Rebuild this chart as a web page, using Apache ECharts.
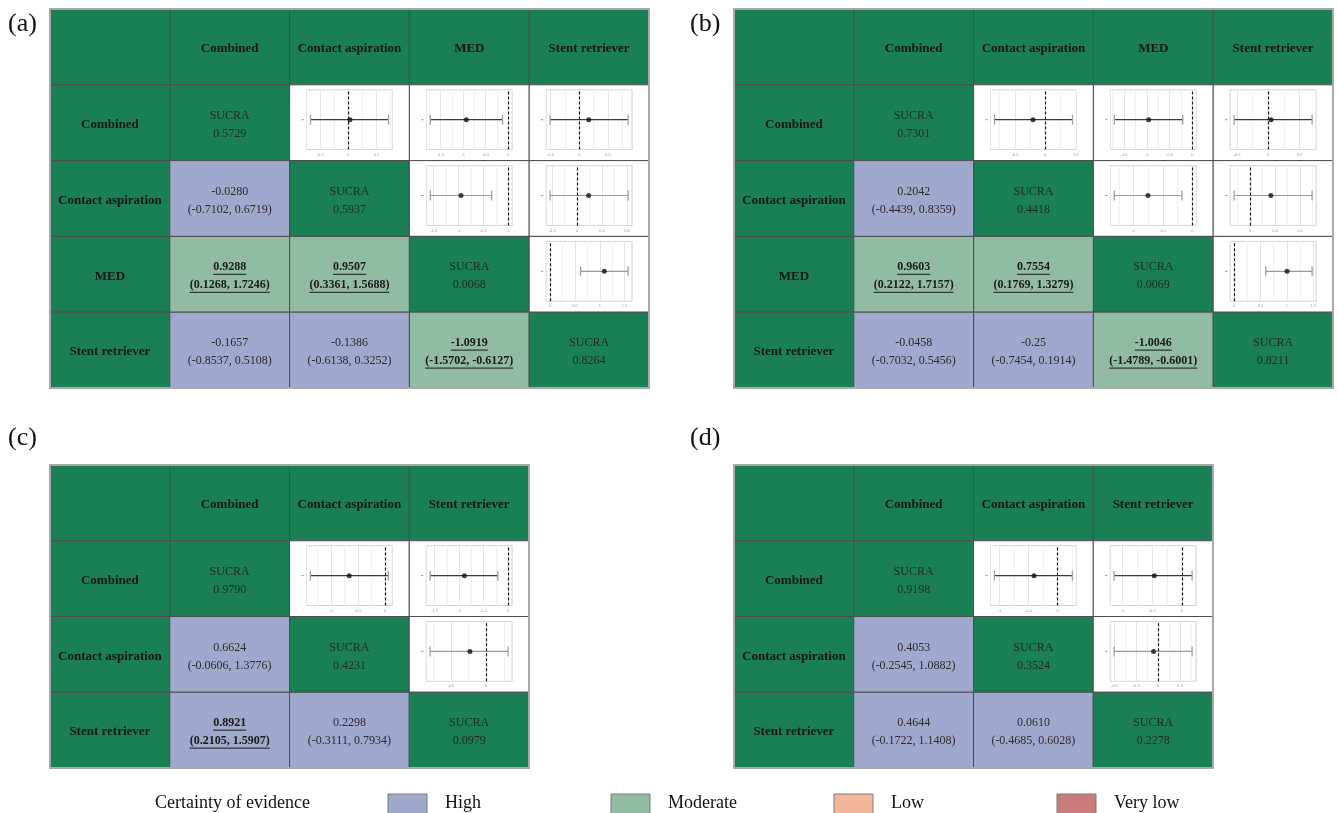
<!DOCTYPE html>
<html>
<head>
<meta charset="utf-8">
<title>League tables with SUCRA and forest plots</title>
<script src="https://cdn.jsdelivr.net/npm/echarts@6/dist/echarts.min.js"></script>
<style>
  html, body { margin: 0; padding: 0; background: #ffffff; }
  #chart { width: 1338px; height: 813px; }
</style>
</head>
<body>
<div id="chart"></div>
<script>
// ---------- data ----------
const panelLabels = ['(a)', '(b)', '(c)', '(d)'];
const treatments4 = ['Combined', 'Contact aspiration', 'MED', 'Stent retriever'];
const treatments3 = ['Combined', 'Contact aspiration', 'Stent retriever'];

// SUCRA per treatment (diagonal)
const sucraA = ['0.5729', '0.5937', '0.0068', '0.8264'];
const sucraB = ['0.7301', '0.4418', '0.0069', '0.8211'];
const sucraC = ['0.9790', '0.4231', '0.0979'];
const sucraD = ['0.9198', '0.3524', '0.2278'];

// Lower-triangle comparisons: [row, col, estimate, lower, upper, certainty]
const effectsA = [
  [1, 0, '-0.0280', '-0.7102', '0.6719', 'High'],
  [2, 0, '0.9288', '0.1268', '1.7246', 'Moderate'],
  [2, 1, '0.9507', '0.3361', '1.5688', 'Moderate'],
  [3, 0, '-0.1657', '-0.8537', '0.5108', 'High'],
  [3, 1, '-0.1386', '-0.6138', '0.3252', 'High'],
  [3, 2, '-1.0919', '-1.5702', '-0.6127', 'Moderate']
];
const effectsB = [
  [1, 0, '0.2042', '-0.4439', '0.8359', 'High'],
  [2, 0, '0.9603', '0.2122', '1.7157', 'Moderate'],
  [2, 1, '0.7554', '0.1769', '1.3279', 'Moderate'],
  [3, 0, '-0.0458', '-0.7032', '0.5456', 'High'],
  [3, 1, '-0.25', '-0.7454', '0.1914', 'High'],
  [3, 2, '-1.0046', '-1.4789', '-0.6001', 'Moderate']
];
const effectsC = [
  [1, 0, '0.6624', '-0.0606', '1.3776', 'High'],
  [2, 0, '0.8921', '0.2105', '1.5907', 'High'],
  [2, 1, '0.2298', '-0.3111', '0.7934', 'High']
];
const effectsD = [
  [1, 0, '0.4053', '-0.2545', '1.0882', 'High'],
  [2, 0, '0.4644', '-0.1722', '1.1408', 'High'],
  [2, 1, '0.0610', '-0.4685', '0.6028', 'High']
];

const certaintyLevels = ['High', 'Moderate', 'Low', 'Very low'];
const certaintyColors = ['#9fa8cd', '#91bba3', '#f2b79b', '#c97c7a'];

// ---------- styling / layout ----------
const FONT = '"Liberation Serif", "Times New Roman", serif';
const GREEN = '#1b7f56';
const panelBoxes = [
  { left: 50, top: 9, width: 599, height: 379 },
  { left: 734, top: 9, width: 599, height: 379 },
  { left: 50, top: 465, width: 479, height: 303 },
  { left: 734, top: 465, width: 479, height: 303 }
];
const labelPos = [[8, 24], [690, 24], [8, 438], [690, 438]];

const panels = [
  { treatments: treatments4, sucra: sucraA, effects: effectsA },
  { treatments: treatments4, sucra: sucraB, effects: effectsB },
  { treatments: treatments3, sucra: sucraC, effects: effectsC },
  { treatments: treatments3, sucra: sucraD, effects: effectsD }
];

const measureCtx = document.createElement('canvas').getContext('2d');
function textWidth(str, font) {
  measureCtx.font = font;
  return measureCtx.measureText(str).width;
}

function certaintyColor(level) {
  return certaintyColors[certaintyLevels.indexOf(level)];
}

const grids = [], xAxes = [], yAxes = [], series = [], graphics = [];

panels.forEach((p, pi) => {
  const n = p.treatments.length;
  const box = panelBoxes[pi];
  const cats = [''].concat(p.treatments);
  const gi = grids.length;
  grids.push({ left: box.left, top: box.top, width: box.width, height: box.height, show: false });
  xAxes.push({ type: 'category', gridIndex: gi, data: cats, show: false });
  yAxes.push({ type: 'category', gridIndex: gi, data: cats, inverse: true, show: false });

  // table cells
  const cells = [];
  for (let r = 0; r <= n; r++) {
    for (let c = 0; c <= n; c++) {
      const cell = { col: c, row: r, fill: GREEN, lines: [], font: '12px ' + FONT, color: '#222', underline: false };
      if (r === 0 && c > 0) {
        cell.lines = [p.treatments[c - 1]];
        cell.font = 'bold 13px ' + FONT;
        cell.color = '#161616';
      } else if (c === 0 && r > 0) {
        cell.lines = [p.treatments[r - 1]];
        cell.font = 'bold 13px ' + FONT;
        cell.color = '#161616';
      } else if (r > 0 && r === c) {
        cell.lines = ['SUCRA', p.sucra[r - 1]];
        cell.color = '#1f2a24';
      } else if (r > c && c > 0) {
        const e = p.effects.find(d => d[0] === r - 1 && d[1] === c - 1);
        const lo = Number(e[3]), hi = Number(e[4]);
        const sig = lo > 0 || hi < 0;
        cell.fill = certaintyColor(e[5]);
        cell.lines = [e[2], '(' + e[3] + ', ' + e[4] + ')'];
        cell.color = '#2b2b2b';
        if (sig) { cell.font = 'bold 12px ' + FONT; cell.underline = true; cell.color = '#1a1a1a'; }
      } else if (r > 0 && r < c) {
        cell.fill = '#ffffff';
      }
      cells.push(cell);
    }
  }

  series.push({
    type: 'custom',
    xAxisIndex: gi,
    yAxisIndex: gi,
    z: 1,
    silent: true,
    data: cells.map(cl => [cl.col, cl.row]),
    renderItem: (params, api) => {
      const cell = cells[params.dataIndex];
      const ctr = api.coord([api.value(0), api.value(1)]);
      const sz = api.size([1, 1]);
      const children = [{
        type: 'rect',
        shape: { x: ctr[0] - sz[0] / 2, y: ctr[1] - sz[1] / 2, width: sz[0], height: sz[1] },
        style: { fill: cell.fill, stroke: '#4d4d4d', lineWidth: 1 }
      }];
      const lh = 18;
      cell.lines.forEach((t, k) => {
        const ty = ctr[1] + 2 + (k - (cell.lines.length - 1) / 2) * lh;
        children.push({
          type: 'text',
          style: { text: t, x: ctr[0], y: ty, align: 'center', verticalAlign: 'middle', font: cell.font, fill: cell.color }
        });
        if (cell.underline) {
          const w = textWidth(t, cell.font);
          children.push({
            type: 'line',
            shape: { x1: ctr[0] - w / 2, y1: ty + 7, x2: ctr[0] + w / 2, y2: ty + 7 },
            style: { stroke: cell.color, lineWidth: 1 }
          });
        }
      });
      return { type: 'group', children };
    }
  });

  // light outer frame of the table
  series.push({
    type: 'custom',
    xAxisIndex: gi,
    yAxisIndex: gi,
    z: 6,
    silent: true,
    data: [[0, 0]],
    renderItem: (params) => {
      const cs = params.coordSys;
      return {
        type: 'rect',
        shape: { x: cs.x, y: cs.y, width: cs.width, height: cs.height },
        style: { fill: 'none', stroke: '#a9a9a9', lineWidth: 2 }
      };
    }
  });

  // forest plots in the upper triangle: comparison of row vs column (sign reversed)
  const cw = box.width / (n + 1), ch = box.height / (n + 1);
  for (let i = 0; i < n; i++) {
    for (let j = i + 1; j < n; j++) {
      const e = p.effects.find(d => d[0] === j && d[1] === i);
      const est = -Number(e[2]), lo = -Number(e[4]), hi = -Number(e[3]);
      const mn = Math.min(lo, 0), mx = Math.max(hi, 0);
      const pad = (mx - mn) * 0.05;
      const fg = grids.length;
      const cellX = box.left + (j + 1) * cw, cellY = box.top + (i + 1) * ch;
      const barColor = i === 0 ? '#3a3a3a' : '#9a9a9a';
      grids.push({
        left: cellX + 17, top: cellY + 5, width: cw - 34, height: ch - 16,
        show: true, backgroundColor: '#ffffff', borderColor: '#d4d4d4', borderWidth: 1, z: 2
      });
      xAxes.push({
        type: 'value', gridIndex: fg, min: mn - pad, max: mx + pad, splitNumber: 3, z: 3,
        axisLine: { show: false }, axisTick: { show: false },
        axisLabel: { fontSize: 4, color: '#9a9a9a', margin: 3, showMinLabel: false, showMaxLabel: false, fontFamily: 'Liberation Sans' },
        splitLine: { show: true, lineStyle: { color: '#e4e4e4', width: 1 } },
        minorTick: { show: true, splitNumber: 2, length: 0, lineStyle: { color: 'rgba(0,0,0,0)' } },
        minorSplitLine: { show: true, lineStyle: { color: '#f0f0f0', width: 1 } }
      });
      yAxes.push({ type: 'value', gridIndex: fg, min: -1, max: 1, show: false });
      series.push({
        type: 'custom',
        xAxisIndex: fg,
        yAxisIndex: fg,
        z: 4,
        silent: true,
        data: [[lo, hi, est]],
        renderItem: (params, api) => {
          const a = api.coord([api.value(0), 0]);
          const b = api.coord([api.value(1), 0]);
          const cs = params.coordSys;
          const capH = 5;
          return {
            type: 'group',
            children: [
              { type: 'line', shape: { x1: cs.x - 5, y1: a[1], x2: cs.x - 3, y2: a[1] }, style: { stroke: '#8a8a8a', lineWidth: 1 } },
              { type: 'line', shape: { x1: a[0], y1: a[1], x2: b[0], y2: b[1] }, style: { stroke: barColor, lineWidth: 1.2 } },
              { type: 'line', shape: { x1: a[0], y1: a[1] - capH, x2: a[0], y2: a[1] + capH }, style: { stroke: '#a0a0a0', lineWidth: 1.3 } },
              { type: 'line', shape: { x1: b[0], y1: b[1] - capH, x2: b[0], y2: b[1] + capH }, style: { stroke: '#a0a0a0', lineWidth: 1.3 } }
            ]
          };
        }
      });
      series.push({
        type: 'scatter',
        xAxisIndex: fg,
        yAxisIndex: fg,
        z: 5,
        silent: true,
        symbol: 'circle',
        symbolSize: 5,
        itemStyle: { color: '#111111' },
        data: [[est, 0]],
        markLine: {
          silent: true,
          symbol: ['none', 'none'],
          label: { show: false },
          lineStyle: { type: [3, 2], color: '#1a1a1a', width: 1.2 },
          data: [{ xAxis: 0 }]
        }
      });
    }
  }

  graphics.push({
    type: 'text', x: labelPos[pi][0], y: labelPos[pi][1],
    style: { text: panelLabels[pi], font: '26px ' + FONT, fill: '#111', verticalAlign: 'middle' }
  });
});

// legend: certainty of evidence
graphics.push({
  type: 'text', x: 155, y: 803,
  style: { text: 'Certainty of evidence', font: '18px ' + FONT, fill: '#111', verticalAlign: 'middle' }
});
certaintyLevels.forEach((lvl, i) => {
  graphics.push({
    type: 'rect', shape: { x: 388 + i * 223, y: 794, width: 39, height: 22 },
    style: { fill: certaintyColors[i], stroke: '#7a7a7a', lineWidth: 1 }
  });
  graphics.push({
    type: 'text', x: 445 + i * 223, y: 803,
    style: { text: lvl, font: '18px ' + FONT, fill: '#111', verticalAlign: 'middle' }
  });
});

const chart = echarts.init(document.getElementById('chart'), null, { renderer: 'canvas' });
chart.setOption({
  animation: false,
  backgroundColor: '#ffffff',
  grid: grids,
  xAxis: xAxes,
  yAxis: yAxes,
  series: series,
  graphic: graphics
});
</script>
</body>
</html>
